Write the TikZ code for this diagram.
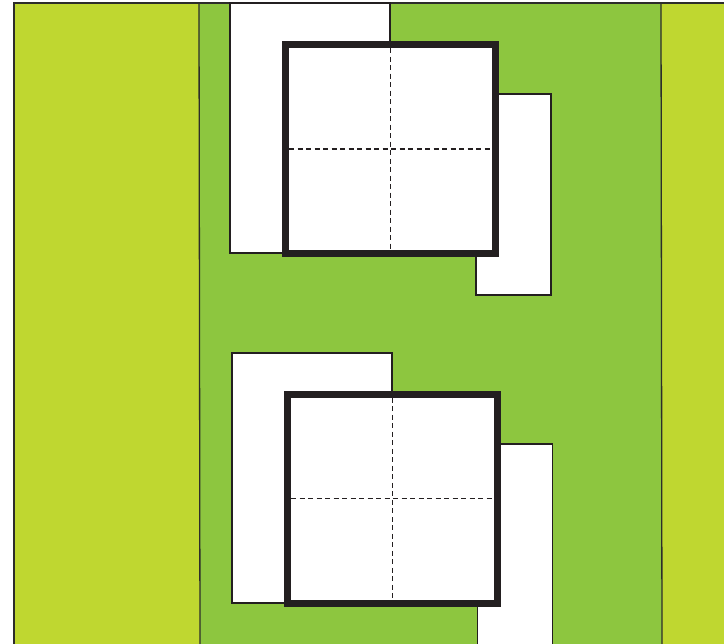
\documentclass[tikz,border=0pt]{standalone}
\usepackage{tikz}
\definecolor{lime}{RGB}{191,215,48}
\definecolor{leaf}{RGB}{141,198,63}
\definecolor{ink}{RGB}{35,31,32}
\definecolor{edge}{RGB}{45,45,42}
\tikzset{
  thinline/.style={draw=edge,line width=1.3pt},
  whitebox/.style={fill=white,draw=ink,line width=1.1pt},
  frame/.style={fill=white,draw=ink,line width=7pt,line join=miter},
  guide/.style={draw=ink,line width=1.2pt,dash pattern=on 5pt off 3.5pt}
}
\begin{document}
\begin{tikzpicture}[x=1pt,y=-1pt]
\useasboundingbox (0,0) rectangle (724,644);
% background strips
\fill[lime] (14,3) rectangle (726,646);
\fill[leaf] (199,3) -- (661,3) -- (662,646) -- (200,646) -- cycle;
\draw[thinline] (14,646) -- (14,3) -- (726,3);
\draw[thinline] (199,3) -- (200,646);
\draw[thinline] (661,3) -- (662,646);
% top group
\draw[whitebox] (230,3) rectangle (390,253);
\draw[whitebox] (476,94) rectangle (551,295);
\draw[frame] (285.5,44.7) rectangle (495.3,253.3);
\draw[guide] (390.4,48.2) -- (390.4,249.8);
\draw[guide] (289,149) -- (491.8,149);
% bottom group
\draw[whitebox] (232,353) rectangle (392,603);
\draw[whitebox] (477.5,444) rectangle (552.5,650);
\draw[frame] (287.7,394.3) rectangle (497,603.3);
\draw[guide] (392.3,397.8) -- (392.3,599.8);
\draw[guide] (291.2,498.8) -- (493.5,498.8);
\end{tikzpicture}
\end{document}
